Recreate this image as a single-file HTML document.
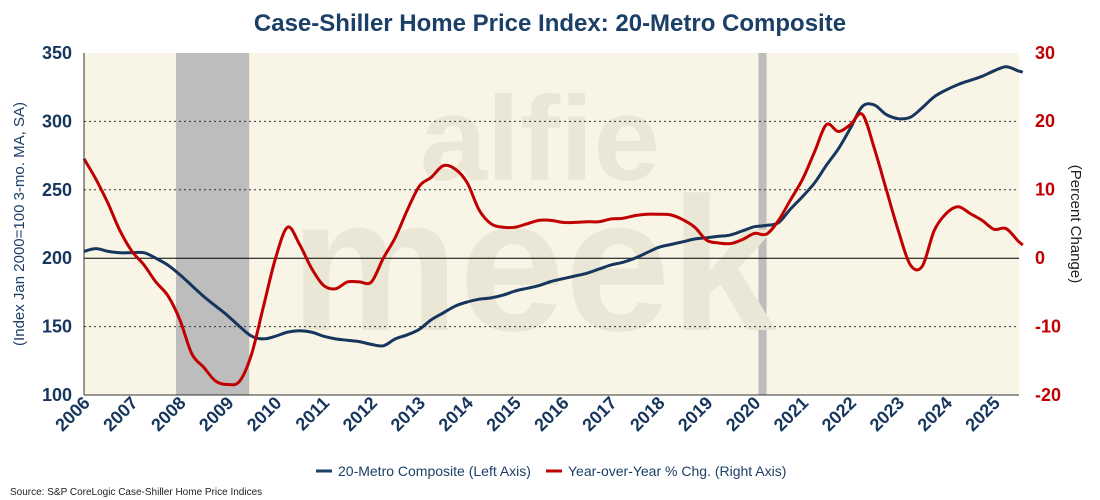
<!DOCTYPE html>
<html><head><meta charset="utf-8"><style>
body{margin:0;background:#fff;font-family:"Liberation Sans",sans-serif}
svg{display:block}
</style></head><body>
<svg id="chart" width="1100" height="500" font-family="Liberation Sans, sans-serif">
<text x="550" y="31" text-anchor="middle" font-size="24" font-weight="bold" fill="#1b3f66">Case-Shiller Home Price Index: 20-Metro Composite</text>
<rect x="84" y="53" width="935" height="342" fill="#f8f5e6"/>
<g id="rec"></g>
<g fill="#ebe7d6" font-weight="bold">
<text x="420" y="180" font-size="120">alfie</text>
<text x="290" y="330" font-size="190">meek</text>
</g>
<g id="grid"></g>
<g id="series"></g>
<g id="axes"></g>
<text transform="translate(24,224) rotate(-90)" text-anchor="middle" font-size="15" fill="#1b3f66">(Index Jan 2000=100 3-mo. MA, SA)</text>
<text transform="translate(1071,224) rotate(90)" text-anchor="middle" font-size="15" fill="#222">(Percent Change)</text>
<g>
<line x1="316" y1="471" x2="332" y2="471" stroke="#1b3f66" stroke-width="3"/>
<text x="338" y="476" font-size="14" fill="#1b3f66">20-Metro Composite (Left Axis)</text>
<line x1="546" y1="471" x2="562" y2="471" stroke="#c00000" stroke-width="3"/>
<text x="568" y="476" font-size="14" fill="#1b3f66">Year-over-Year % Chg. (Right Axis)</text>
</g>
<text x="10" y="495" font-size="10" fill="#222">Source: S&amp;P CoreLogic Case-Shiller Home Price Indices</text>
</svg>
<script>
const dates=[2006,2006.25,2006.5,2006.75,2007,2007.25,2007.5,2007.75,2008,2008.25,2008.5,2008.75,2009,2009.25,2009.5,2009.75,2010,2010.25,2010.5,2010.75,2011,2011.25,2011.5,2011.75,2012,2012.25,2012.5,2012.75,2013,2013.25,2013.5,2013.75,2014,2014.25,2014.5,2014.75,2015,2015.25,2015.5,2015.75,2016,2016.25,2016.5,2016.75,2017,2017.25,2017.5,2017.75,2018,2018.25,2018.5,2018.75,2019,2019.25,2019.5,2019.75,2020,2020.25,2020.5,2020.75,2021,2021.25,2021.5,2021.75,2022,2022.25,2022.5,2022.75,2023,2023.25,2023.5,2023.75,2024,2024.25,2024.5,2024.75,2025,2025.25,2025.5,2025.6];
const indexVals=[205,207,205,204,204,204,200,195,188,180,172,165,158,150,143,141,143,146,147,146,143,141,140,139,137,136,141,144,148,155,160,165,168,170,171,173,176,178,180,183,185,187,189,192,195,197,200,204,208,210,212,214,215,216,217,220,223,224,226,236,245,255,268,280,295,311,312,305,302,303,310,318,323,327,330,333,337,340,337,336];
const yoyVals=[14.5,11.5,8,4,1,-1,-3.5,-5.5,-9,-14,-16,-18,-18.5,-18,-14,-7,0,4.5,2,-1.5,-4,-4.5,-3.5,-3.5,-3.5,0,3,7,10.5,11.8,13.5,13,11,7,5,4.5,4.5,5,5.5,5.5,5.2,5.2,5.3,5.3,5.7,5.8,6.2,6.4,6.4,6.3,5.6,4.5,2.6,2.2,2.1,2.7,3.6,3.5,5.5,8.5,11.5,15.5,19.5,18.5,19.5,21,16,10,4,-1,-1.2,4,6.5,7.5,6.5,5.5,4.2,4.3,2.5,1.9];
const leftTicks=[100,150,200,250,300,350];
const rightTicks=[-20,-10,0,10,20,30];
const yearTicks=[2006,2007,2008,2009,2010,2011,2012,2013,2014,2015,2016,2017,2018,2019,2020,2021,2022,2023,2024,2025];
const recessions=[[2007.92,2009.45],[2020.08,2020.25]];
const X=t=>84+(t-2006)*47.9;
const YL=v=>395-(v-100)*1.368;
const YR=v=>258-v*6.84;
const NS='http://www.w3.org/2000/svg';
function mk(tag,attrs,parent){const e=document.createElementNS(NS,tag);for(const k in attrs)e.setAttribute(k,attrs[k]);document.getElementById(parent).appendChild(e);return e;}
recessions.forEach(r=>{const e=mk('rect',{x:X(r[0]),y:53,width:X(r[1])-X(r[0]),height:342,fill:'#bdbdbd'},'rec');

});
leftTicks.forEach(v=>{if(v===100||v===350)return;
const e=mk('line',{x1:84,x2:1019,y1:YL(v),y2:YL(v),stroke:v===200?'#000':'#333','stroke-width':1,'stroke-dasharray':v===200?'':'2,3'},'grid');

});
function path(vals,Y){const p=vals.map((v,i)=>[X(dates[i]),Y(v)]);let d='M'+p[0][0].toFixed(1)+','+p[0][1].toFixed(1);
for(let i=0;i<p.length-1;i++){const a=p[Math.max(0,i-1)],b=p[i],c=p[i+1],e=p[Math.min(p.length-1,i+2)];
const c1=[b[0]+(c[0]-a[0])/6,b[1]+(c[1]-a[1])/6],c2=[c[0]-(e[0]-b[0])/6,c[1]-(e[1]-b[1])/6];
d+=` C${c1[0].toFixed(1)},${c1[1].toFixed(1)} ${c2[0].toFixed(1)},${c2[1].toFixed(1)} ${c[0].toFixed(1)},${c[1].toFixed(1)}`;}
return d;}
const pi=mk('path',{d:path(indexVals,YL),fill:'none',stroke:'#17365d','stroke-width':3,'stroke-linejoin':'round'},'series');


const py=mk('path',{d:path(yoyVals,YR),fill:'none',stroke:'#c00000','stroke-width':3,'stroke-linejoin':'round'},'series');


const al=mk('line',{x1:84,x2:84,y1:53,y2:395,stroke:'#333'},'axes');


const ab=mk('line',{x1:84,x2:1019,y1:395,y2:395,stroke:'#333'},'axes');


leftTicks.forEach(v=>{const e=mk('text',{x:72,y:YL(v)+6,'text-anchor':'end','font-size':18,'font-weight':'bold',fill:'#17365d'},'axes');e.textContent=v;

});
rightTicks.forEach(v=>{const e=mk('text',{x:1035,y:YR(v)+6,'font-size':18,'font-weight':'bold',fill:'#c00000'},'axes');e.textContent=v;

});
yearTicks.forEach(y=>{const x=X(y)+7;const e=mk('text',{x:x,y:404,'text-anchor':'end','font-size':18,'font-weight':'bold',fill:'#17365d',transform:`rotate(-45 ${x} 404)`},'axes');e.textContent=y;

});
</script>
</body></html>
